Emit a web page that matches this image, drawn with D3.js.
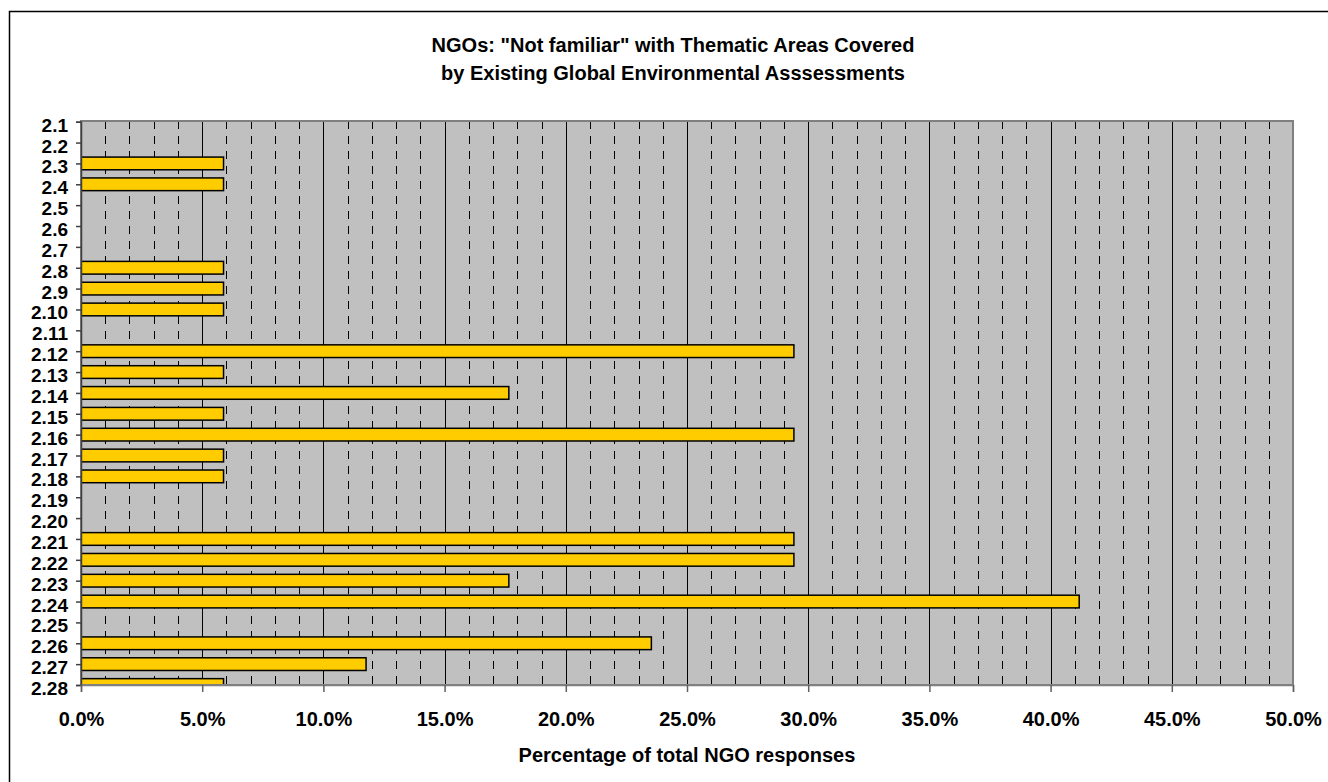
<!DOCTYPE html>
<html>
<head>
<meta charset="utf-8">
<script src="https://cdn.jsdelivr.net/npm/d3@7"></script>
<style>
  html, body { margin: 0; padding: 0; background: #fff; }
  svg { display: block; }
  text { font-family: "Liberation Sans", Arial, sans-serif; font-weight: bold; fill: #000; }
</style>
</head>
<body>
<svg id="chart" width="1328" height="782"></svg>
<script>
const titleLines = ['NGOs: "Not familiar" with Thematic Areas Covered', 'by Existing Global Environmental Asssessments'];
const xAxisTitle = 'Percentage of total NGO responses';
const categories = ['2.1','2.2','2.3','2.4','2.5','2.6','2.7','2.8','2.9','2.10','2.11','2.12','2.13','2.14','2.15','2.16','2.17','2.18','2.19','2.20','2.21','2.22','2.23','2.24','2.25','2.26','2.27','2.28'];
const values = [0,0,5.88,5.88,0,0,0,5.88,5.88,5.88,0,29.41,5.88,17.65,5.88,29.41,5.88,5.88,0,0,29.41,29.41,17.65,41.18,0,23.53,11.76,5.88];
const xTicks = [0,5,10,15,20,25,30,35,40,45,50];
const xMinorTicks = d3.range(0, 51, 1);

const svg = d3.select('#chart');
const plot = {left: 81, right: 1293, top: 121, bottom: 685};

// outer frame (cut by window at right/bottom)
svg.append('rect').attr('x', 9.5).attr('y', 11.5).attr('width', 1400).attr('height', 900)
  .attr('fill', '#fff').attr('stroke', '#000').attr('stroke-width', 1.5);

const x = d3.scaleLinear().domain([0, 50]).range([plot.left, plot.right]);
const y = d3.scalePoint().domain(categories).range([plot.top + 0.7, plot.bottom]);
const barH = 12.7;

// plot background
svg.append('rect').attr('x', plot.left).attr('y', plot.top)
  .attr('width', plot.right - plot.left).attr('height', plot.bottom - plot.top)
  .attr('fill', '#C0C0C0');

// minor dashed gridlines
svg.append('g').selectAll('line').data(xMinorTicks.filter(d => d % 5 !== 0)).join('line')
  .attr('x1', d => Math.round(x(d)) + 0.5).attr('x2', d => Math.round(x(d)) + 0.5)
  .attr('y1', plot.top).attr('y2', plot.bottom)
  .attr('stroke', '#000').attr('stroke-width', 1).attr('stroke-dasharray', '8,7');

// major gridlines
svg.append('g').selectAll('line').data(xTicks.filter(d => d > 0 && d < 50)).join('line')
  .attr('x1', d => Math.round(x(d)) + 0.5).attr('x2', d => Math.round(x(d)) + 0.5)
  .attr('y1', plot.top).attr('y2', plot.bottom)
  .attr('stroke', '#000').attr('stroke-width', 1);

// bars, clipped to plot area
svg.append('clipPath').attr('id', 'clip').append('rect')
  .attr('x', plot.left - 2).attr('y', plot.top).attr('width', plot.right - plot.left + 4).attr('height', plot.bottom - plot.top);
svg.append('g').attr('clip-path', 'url(#clip)').selectAll('rect')
  .data(categories.map((c, i) => ({c, v: values[i]})).filter(d => d.v > 0)).join('rect')
  .attr('x', x(0)).attr('y', d => y(d.c) - barH / 2)
  .attr('width', d => x(d.v) - x(0)).attr('height', barH)
  .attr('fill', '#FFCC00').attr('stroke', '#000').attr('stroke-width', 1.5);

// plot border
svg.append('rect').attr('x', plot.left).attr('y', plot.top)
  .attr('width', plot.right - plot.left).attr('height', plot.bottom - plot.top)
  .attr('fill', 'none').attr('stroke', '#808080').attr('stroke-width', 2);

// y axis
const yAxis = d3.axisLeft(y).tickSize(5).tickPadding(8);
const gy = svg.append('g').attr('transform', `translate(${plot.left},0)`).call(yAxis);
gy.select('.domain').attr('stroke', '#404040').attr('stroke-width', 1.5);
gy.selectAll('.tick line').attr('stroke', '#404040').attr('stroke-width', 1.5);
gy.selectAll('.tick text').attr('font-size', 19).attr('font-family', '"Liberation Sans", Arial, sans-serif')
  .attr('font-weight', 'bold').attr('dy', '0.5em').attr('fill', '#000').attr('x', -13);

// x axis
const xAxis = d3.axisBottom(x).tickValues(xTicks).tickSize(7).tickPadding(20).tickFormat(d => d.toFixed(1) + '%');
const gx = svg.append('g').attr('transform', `translate(0,${plot.bottom})`).call(xAxis);
gx.select('.domain').attr('stroke', '#808080').attr('stroke-width', 1.5);
gx.selectAll('.tick line').attr('stroke', '#606060').attr('stroke-width', 1.5);
gx.selectAll('.tick text').attr('font-size', 20).attr('font-family', '"Liberation Sans", Arial, sans-serif')
  .attr('font-weight', 'bold').attr('fill', '#000');

// titles
svg.append('text').attr('x', 673).attr('y', 52).attr('text-anchor', 'middle')
  .attr('font-size', 20).text(titleLines[0]);
svg.append('text').attr('x', 673).attr('y', 80).attr('text-anchor', 'middle')
  .attr('font-size', 20).text(titleLines[1]);

svg.append('text').attr('x', 687).attr('y', 761.5).attr('text-anchor', 'middle')
  .attr('font-size', 20).text(xAxisTitle);
</script>
</body>
</html>
